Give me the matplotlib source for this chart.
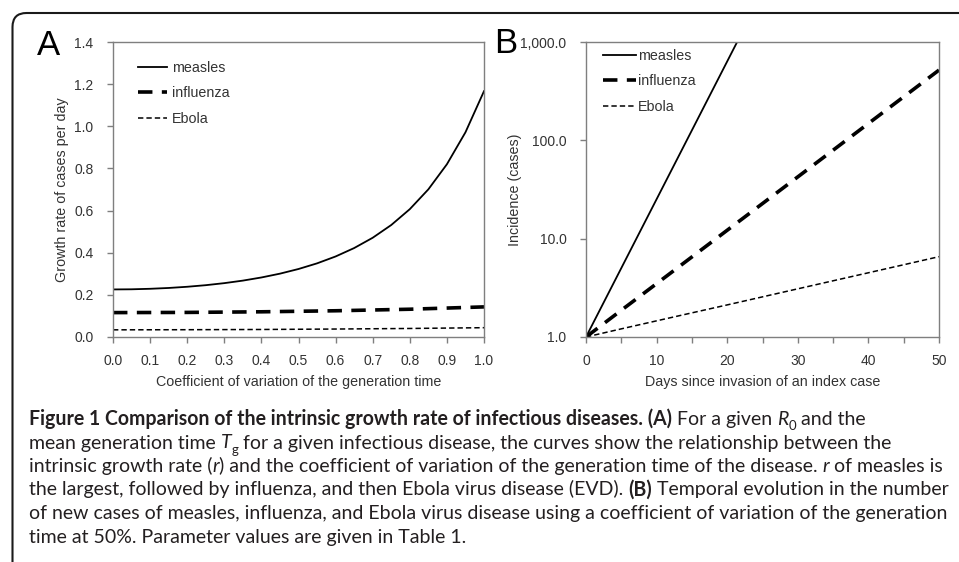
import matplotlib
matplotlib.use("Agg")
import matplotlib.pyplot as plt
from matplotlib.transforms import IdentityTransform
from matplotlib.patches import FancyBboxPatch
from matplotlib.ticker import FixedLocator, MultipleLocator, NullLocator

# ---------------- data ----------------
# Panel A: growth rate vs coefficient of variation of generation time
cv_values = [0.00, 0.05, 0.10, 0.15, 0.20, 0.25, 0.30, 0.35, 0.40, 0.45, 0.50,
             0.55, 0.60, 0.65, 0.70, 0.75, 0.80, 0.85, 0.90, 0.95, 1.00]
measles_r = [0.2257, 0.2264, 0.2288, 0.2327, 0.2384, 0.2459, 0.2556, 0.2676, 0.2825,
             0.3006, 0.3227, 0.3495, 0.3822, 0.4221, 0.4710, 0.5315, 0.6067, 0.7007,
             0.8198, 0.9714, 1.1667]
cv_sparse = [0.0, 0.2, 0.4, 0.6, 0.8, 1.0]
influenza_r = [0.1158, 0.1167, 0.1196, 0.1245, 0.1318, 0.1429]
ebola_r = [0.0340, 0.0346, 0.0357, 0.0378, 0.0405, 0.0442]

# Panel B: incidence over time (CV = 50%)
measles_days = [0, 5, 10, 15, 20, 25]
measles_inc = [1.0, 5.02, 25.2, 126.5, 635.0, 3190.0]
days = [0, 5, 10, 15, 20, 25, 30, 35, 40, 45, 50]
influenza_inc = [1.0, 1.87, 3.49, 6.52, 12.18, 22.76, 42.5, 79.4, 148.4, 277.2, 518.0]
ebola_inc = [1.0, 1.21, 1.46, 1.76, 2.12, 2.56, 3.09, 3.73, 4.50, 5.43, 6.56]

series_labels = ["measles", "influenza", "Ebola"]
a_xticks = [0.0, 0.1, 0.2, 0.3, 0.4, 0.5, 0.6, 0.7, 0.8, 0.9, 1.0]
a_yticks = [0.0, 0.2, 0.4, 0.6, 0.8, 1.0, 1.2, 1.4]
b_xticks = [0, 10, 20, 30, 40, 50]
b_yticks = [1, 10, 100, 1000]
b_yticklabels = ["1.0", "10.0", "100.0", "1,000.0"]

# ---------------- figure ----------------
W, H = 959, 562
plt.rcParams["font.family"] = ["Liberation Sans", "DejaVu Sans"]
fig = plt.figure(figsize=(W / 100, H / 100), dpi=100)
fig.patch.set_facecolor("white")
renderer = fig.canvas.get_renderer()

SPINE = "#7f7f7f"
TXT = "#333333"

# outer rounded frame (cropped at right/bottom)
frame = FancyBboxPatch((12.5, -60), 1100, (H - 13) + 60,
                       boxstyle="round,pad=0,rounding_size=14",
                       transform=IdentityTransform(), fill=False,
                       edgecolor="#1a1a1a", linewidth=1.5)
fig.patches.append(frame)


def px_axes(l, t, r, b):
    return fig.add_axes([l / W, 1 - b / H, (r - l) / W, (b - t) / H])


def style_axes(ax):
    for s in ax.spines.values():
        s.set_color(SPINE)
        s.set_linewidth(1.0)
    ax.tick_params(which="both", direction="out", length=4, width=1.0,
                   color=SPINE, labelsize=10, labelcolor=TXT)
    ax.tick_params(axis="y", pad=10)
    ax.tick_params(axis="x", pad=8)


dash_flu = (0, (4.0, 2.6))
dash_ebo = (0, (3.5, 2.0))

# Panel A
axA = px_axes(113, 42, 484, 337)
style_axes(axA)
axA.plot(cv_values, measles_r, color="black", lw=1.3, label=series_labels[0])
axA.plot(cv_sparse, influenza_r, color="black", lw=2.6, linestyle=dash_flu,
         label=series_labels[1])
axA.plot(cv_sparse, ebola_r, color="black", lw=1.1, linestyle=dash_ebo,
         label=series_labels[2])
axA.set_xlim(0, 1)
axA.set_ylim(0, 1.4)
axA.set_xticks(a_xticks)
axA.set_xticklabels([f"{v:.1f}" for v in a_xticks])
axA.set_yticks(a_yticks)
axA.set_yticklabels([f"{v:.1f}" for v in a_yticks])
axA.set_xlabel("Coefficient of variation of the generation time",
               fontsize=10.3, color=TXT)
axA.xaxis.set_label_coords(0.5, -(382 - 337) / 295)
axA.xaxis.label.set_va("center")
axA.set_ylabel("Growth rate of cases per day", fontsize=10.3, color=TXT)
axA.yaxis.set_label_coords((62 - 113) / 371, 0.5)
axA.yaxis.label.set_va("center")
legA = axA.legend(loc="upper left", bbox_to_anchor=((138 - 113) / 371, 1 - (61 - 42) / 295),
                  frameon=False, fontsize=10.3, handlelength=2.0, handletextpad=0.4,
                  labelspacing=0.8, borderpad=0, borderaxespad=0)
for t in legA.get_texts():
    t.set_color(TXT)

# Panel B
axB = px_axes(586, 42, 939, 337)
style_axes(axB)
axB.set_yscale("log")
axB.plot(measles_days, measles_inc, color="black", lw=1.3, label=series_labels[0])
axB.plot(days, influenza_inc, color="black", lw=2.6, linestyle=dash_flu,
         label=series_labels[1])
axB.plot(days, ebola_inc, color="black", lw=1.1, linestyle=dash_ebo,
         label=series_labels[2])
axB.set_xlim(0, 50)
axB.set_ylim(1, 1000)
axB.xaxis.set_major_locator(FixedLocator(b_xticks))
axB.xaxis.set_minor_locator(MultipleLocator(5))
axB.set_xticklabels([str(v) for v in b_xticks])
axB.yaxis.set_major_locator(FixedLocator(b_yticks))
axB.yaxis.set_minor_locator(NullLocator())
axB.set_yticklabels(b_yticklabels)
axB.set_xlabel("Days since invasion of an index case", fontsize=10.3, color=TXT)
axB.xaxis.set_label_coords(0.5, -(382 - 337) / 295)
axB.xaxis.label.set_va("center")
axB.set_ylabel("Incidence (cases)", fontsize=10.3, color=TXT)
axB.yaxis.set_label_coords((515 - 586) / 353, 0.5)
axB.yaxis.label.set_va("center")
legB = axB.legend(loc="upper left", bbox_to_anchor=((603 - 586) / 353, 1 - (49 - 42) / 295),
                  frameon=False, fontsize=10.3, handlelength=2.3, handletextpad=0.15,
                  labelspacing=0.8, borderpad=0, borderaxespad=0)
for t in legB.get_texts():
    t.set_color(TXT)

# panel letters
fig.text(37, H - 55, "A", transform=IdentityTransform(), fontsize=25,
         va="baseline", ha="left", color="black")
fig.text(494, H - 53, "B", transform=IdentityTransform(), fontsize=25,
         va="baseline", ha="left", color="black")

# ---------------- caption ----------------
CAP_FONT = ["Lato", "DejaVu Sans"]
CAP_COLOR = "#231f20"
X0 = 29
B = {"weight": "bold"}
N = {}
I = {"style": "italic"}
SUB = {"scale": 0.68, "dy": -0.28}

caption_lines = [
    [("Figure 1 Comparison of the intrinsic growth rate of infectious diseases. (A)", B),
     (" For a given ", N), ("R", I), ("0", SUB), (" and the", N)],
    [("mean generation time ", N), ("T", I), ("g", SUB),
     (" for a given infectious disease, the curves show the relationship between the", N)],
    [("intrinsic growth rate (", N), ("r", I),
     (") and the coefficient of variation of the generation time of the disease. ", N),
     ("r", I), (" of measles is", N)],
    [("the largest, followed by influenza, and then Ebola virus disease (EVD). ", N),
     ("(B)", B), (" Temporal evolution in the number", N)],
    [("of new cases of measles, influenza, and Ebola virus disease using a coefficient of variation of the generation", N)],
    [("time at 50%. Parameter values are given in Table 1.", N)],
]


def kw_for(style, size):
    return dict(fontsize=size * style.get("scale", 1.0),
                fontweight=style.get("weight", "normal"),
                fontstyle=style.get("style", "normal"),
                family=CAP_FONT, color=CAP_COLOR)


def text_w(s, kw):
    t = fig.text(0, 0, s, transform=IdentityTransform(), **kw)
    w = t.get_window_extent(renderer).width
    t.remove()
    return w


def space_w(kw):
    return text_w("x x", kw) - text_w("xx", kw)


def layout_line(runs, size, y_top=None):
    x = X0
    for s, style in runs:
        kw = kw_for(style, size)
        lead = len(s) - len(s.lstrip(" "))
        trail = len(s) - len(s.rstrip(" "))
        core = s.strip(" ")
        sw = space_w(kw) if (lead or trail) else 0
        x += lead * sw
        if core:
            if y_top is not None:
                yb = H - y_top + style.get("dy", 0) * size * 100 / 72
                fig.text(x, yb, core, transform=IdentityTransform(),
                         va="baseline", ha="left", **kw)
            x += text_w(core, kw)
        x += trail * sw
    return x


# fit caption size so the longest line reaches the right side
ref_size = 10.0
w_ref = layout_line(caption_lines[4], ref_size) - X0
cap_size = ref_size * (950 - X0) / w_ref

base0 = 425
spacing = 23.5
for i, runs in enumerate(caption_lines):
    layout_line(runs, cap_size, y_top=base0 + i * spacing)

fig.savefig("out.png", dpi=100, facecolor="white")
